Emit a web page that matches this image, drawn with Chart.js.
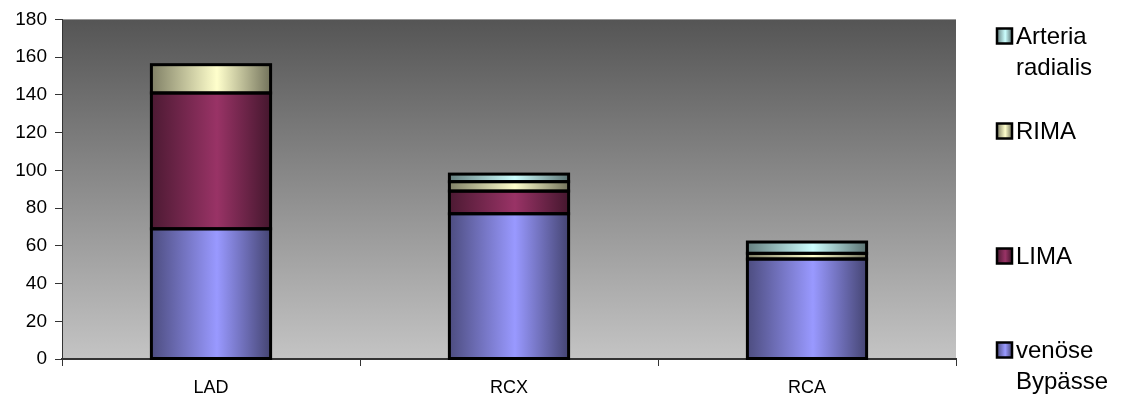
<!DOCTYPE html>
<html>
<head>
<meta charset="utf-8">
<script src="https://cdn.jsdelivr.net/npm/chart.js@4"></script>
<style>
  html, body { margin: 0; padding: 0; background: #ffffff; }
</style>
</head>
<body>
<canvas id="chart" width="1121" height="400"></canvas>
<script>
// Kategorien und Serien (gestapelt)
const categories = ['LAD', 'RCX', 'RCA'];
const venoeseBypaesse = [69, 77, 53];
const lima = [72, 12, 0];
const rima = [15, 5, 3];
const arteriaRadialis = [0, 4, 6];

const seriesLabels = [['venöse', 'Bypässe'], 'LIMA', 'RIMA', ['Arteria', 'radialis']];
const seriesColors = ['#9999ff', '#993366', '#ffffcc', '#ccffff'];

const yMax = 180;
const yStep = 20;

const FONT = '"Liberation Sans", Arial, sans-serif';
const BAR_PCT = 0.4;

function shade(hex, f) {
    const n = parseInt(hex.slice(1), 16);
    const r = Math.round(((n >> 16) & 255) * f);
    const g = Math.round(((n >> 8) & 255) * f);
    const b = Math.round((n & 255) * f);
    return `rgb(${r},${g},${b})`;
}

function hGradient(ctx, x0, x1, base) {
    const g = ctx.createLinearGradient(x0, 0, x1, 0);
    g.addColorStop(0, shade(base, 0.5));
    g.addColorStop(0.55, base);
    g.addColorStop(1, shade(base, 0.45));
    return g;
}

// horizontaler Farbverlauf je Balken
function barFill(base) {
    return function(context) {
        const chart = context.chart;
        if (!chart.chartArea || context.dataIndex === undefined) return base;
        const x = chart.scales.x;
        const cx = x.getPixelForValue(context.dataIndex);
        const w = x.width / categories.length * BAR_PCT;
        return hGradient(chart.ctx, cx - w / 2, cx + w / 2, base);
    };
}

// grauer Verlauf im Diagrammbereich
const plotBackground = {
    id: 'plotBackground',
    beforeDraw(chart) {
        const { ctx, chartArea: a } = chart;
        const g = ctx.createLinearGradient(0, a.top, 0, a.bottom);
        g.addColorStop(0, '#555555');
        g.addColorStop(1, '#c4c4c4');
        ctx.save();
        ctx.fillStyle = g;
        ctx.fillRect(a.left, a.top, a.right - a.left, a.bottom - a.top);
        ctx.restore();
    }
};

// schwarze Umrandung mittig auf den Balkenkanten
const barOutline = {
    id: 'barOutline',
    afterDatasetsDraw(chart) {
        const ctx = chart.ctx;
        ctx.save();
        ctx.strokeStyle = '#000';
        ctx.lineWidth = 3;
        chart.data.datasets.forEach((ds, i) => {
            chart.getDatasetMeta(i).data.forEach(bar => {
                const h = bar.base - bar.y;
                if (Math.abs(h) < 0.5) return;
                ctx.strokeRect(bar.x - bar.width / 2, bar.y, bar.width, h);
            });
        });
        ctx.restore();
    }
};

// Legende rechts, umgekehrte Reihenfolge, mehrzeilige Texte
const sideLegend = {
    id: 'sideLegend',
    afterDraw(chart, args, opts) {
        const ctx = chart.ctx;
        const sets = chart.data.datasets;
        ctx.save();
        ctx.font = opts.fontSize + 'px ' + FONT;
        ctx.textBaseline = 'middle';
        for (let k = 0; k < sets.length; k++) {
            const i = sets.length - 1 - k;
            const y = opts.rows[k];
            const lines = Array.isArray(seriesLabels[i]) ? seriesLabels[i] : [seriesLabels[i]];
            const s = opts.box;
            ctx.fillStyle = hGradient(ctx, opts.x, opts.x + s, seriesColors[i]);
            ctx.fillRect(opts.x, y - s / 2, s, s);
            ctx.lineWidth = 2.5;
            ctx.strokeStyle = '#000';
            ctx.strokeRect(opts.x, y - s / 2, s, s);
            ctx.fillStyle = '#000';
            lines.forEach((t, j) => ctx.fillText(t, opts.x + s + 4, y + 1 + j * opts.lineHeight));
        }
        ctx.restore();
    }
};

const seriesData = [venoeseBypaesse, lima, rima, arteriaRadialis];

new Chart(document.getElementById('chart'), {
    type: 'bar',
    data: {
        labels: categories,
        datasets: seriesData.map((d, i) => ({
            label: Array.isArray(seriesLabels[i]) ? seriesLabels[i].join(' ') : seriesLabels[i],
            data: d,
            backgroundColor: barFill(seriesColors[i]),
            borderWidth: 0,
            categoryPercentage: 1,
            barPercentage: BAR_PCT
        }))
    },
    options: {
        responsive: false,
        animation: false,
        layout: { padding: { top: 19, right: 165, left: 0, bottom: 0 } },
        scales: {
            x: {
                stacked: true,
                afterFit: s => { s.height = 41; },
                grid: { offset: true, drawOnChartArea: false, drawTicks: true, tickLength: 7, color: '#333' },
                border: { display: true, color: '#333', width: 2 },
                ticks: { color: '#000', font: { family: FONT, size: 18 }, padding: 11 }
            },
            y: {
                stacked: true,
                min: 0,
                max: yMax,
                afterFit: s => { s.width = 62; },
                grid: { drawOnChartArea: false, drawTicks: true, tickLength: 7, color: '#333' },
                border: { display: true, color: '#333', width: 1 },
                ticks: { stepSize: yStep, color: '#000', font: { family: FONT, size: 19 }, padding: 8 }
            }
        },
        plugins: {
            legend: { display: false },
            tooltip: { enabled: false },
            sideLegend: { x: 997, box: 15, fontSize: 24, lineHeight: 31, rows: [36, 131, 256, 350] }
        }
    },
    plugins: [plotBackground, barOutline, sideLegend]
});
</script>
</body>
</html>
